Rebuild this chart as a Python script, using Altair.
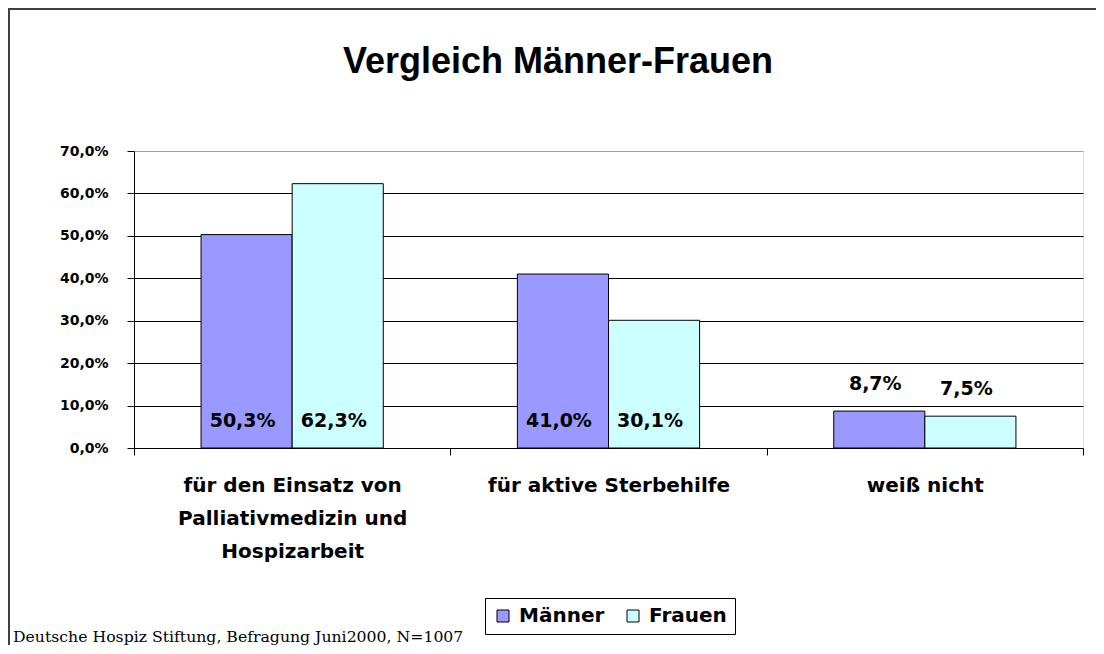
import altair as alt
import pandas as pd

categories = ["für den Einsatz von\nPalliativmedizin und\nHospizarbeit", "für aktive Sterbehilfe", "weiß nicht"]
series = ["Männer", "Frauen"]
maenner = [50.3, 41.0, 8.7]
frauen = [62.3, 30.1, 7.5]
colors = ["#9999FF", "#CCFFFF"]
y_ticks = [0, 10, 20, 30, 40, 50, 60, 70]
title_text = "Vergleich Männer-Frauen"
source_text = "Deutsche Hospiz Stiftung, Befragung Juni2000, N=1007"

rows = []
for i, c in enumerate(categories):
    rows.append({"Kategorie": c, "Geschlecht": "Männer", "Wert": maenner[i]})
    rows.append({"Kategorie": c, "Geschlecht": "Frauen", "Wert": frauen[i]})
df = pd.DataFrame(rows)

SANS = "DejaVu Sans"

x_enc = alt.X(
    "Kategorie:N",
    sort=categories,
    title=None,
    scale=alt.Scale(paddingInner=0, paddingOuter=0),
    axis=alt.Axis(
        labelAngle=0,
        labelExpr="split(datum.label, '\\n')",
        labelFont=SANS,
        labelFontSize=20,
        labelFontWeight="bold",
        labelColor="black",
        labelLineHeight=33,
        labelPadding=20,
        labelLimit=0,
        tickBand="extent",
        tickSize=7,
        tickColor="black",
        domainColor="black",
        labelBaseline="top",
    ),
)
xoff = alt.XOffset("Geschlecht:N", sort=series, scale=alt.Scale(paddingInner=0, paddingOuter=0.736))
y_enc = alt.Y(
    "Wert:Q",
    title=None,
    scale=alt.Scale(domain=[0, 70], nice=False),
    axis=alt.Axis(
        values=y_ticks,
        labelExpr="replace(format(datum.value, '.1f'), '.', ',') + '%'",
        labelFont=SANS,
        labelFontSize=14,
        labelFontWeight="bold",
        labelColor="black",
        labelPadding=19,
        tickSize=7,
        tickColor="black",
        domainColor="black",
        grid=True,
        gridColor={"condition": {"test": "datum.value >= 69", "value": "#a0a0a0"}, "value": "black"},
        gridOpacity=1,
    ),
)

bars = alt.Chart(df).mark_bar(stroke="black", strokeWidth=1).encode(
    x=x_enc,
    xOffset=xoff,
    y=y_enc,
    color=alt.Color(
        "Geschlecht:N",
        sort=series,
        scale=alt.Scale(domain=series, range=colors),
        legend=alt.Legend(
            title=None,
            orient="none",
            legendX=351,
            legendY=447,
            direction="horizontal",
            strokeColor="black",
            fillColor="white",
            padding=8,
            symbolType="square",
            symbolSize=144,
            symbolStrokeColor="black",
            symbolStrokeWidth=1,
            symbolOpacity=1,
            labelFont=SANS,
            labelFontSize=20,
            labelFontWeight="bold",
            labelColor="black",
            labelOffset=6,
            columnPadding=18,
        ),
    ),
)

labels = alt.Chart(df).transform_calculate(
    pos="datum.Wert > 20 ? 0 : datum.Wert",
    txt="replace(format(datum.Wert, '.1f'), '.', ',') + '%'",
).mark_text(
    font=SANS, fontSize=19, fontWeight="bold", color="black", baseline="alphabetic", dy=-21, dx=-4
).encode(
    x=alt.X("Kategorie:N", sort=categories),
    xOffset=alt.XOffset("Geschlecht:N", sort=series),
    y=alt.Y("pos:Q"),
    text="txt:N",
)

one = alt.Data(values=[{}])
title = alt.Chart(one).mark_text(
    font="Liberation Sans", fontSize=36, fontWeight="bold", color="black", align="center", baseline="alphabetic"
).encode(x=alt.value(424), y=alt.value(-78), text=alt.value(title_text))

source = alt.Chart(one).mark_text(
    font="DejaVu Serif", fontSize=15.7, color="black", align="left", baseline="alphabetic"
).encode(x=alt.value(-121), y=alt.value(491), text=alt.value(source_text))

frame_top = alt.Chart(one).mark_rule(color="#404040", strokeWidth=2).encode(
    x=alt.value(-126), x2=alt.value(962), y=alt.value(-142)
)
frame_left = alt.Chart(one).mark_rule(color="#404040", strokeWidth=2).encode(
    x=alt.value(-125), y=alt.value(-143), y2=alt.value(495)
)

chart = alt.layer(bars, labels, title, source, frame_top, frame_left).properties(
    width=949,
    height=297,
    padding={"left": 126, "top": 143, "right": 13, "bottom": 197},
    autosize=alt.AutoSizeParams(type="none"),
).configure_view(stroke="#a0a0a0", strokeWidth=1).configure(background="white")

chart.save("out.html", embed_options={"renderer": "svg", "actions": False})
